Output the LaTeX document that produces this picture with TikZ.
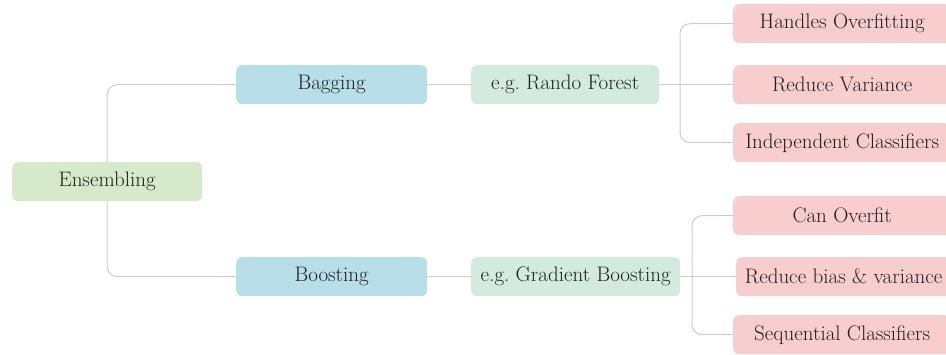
\documentclass[tikz,border=0pt]{standalone}
\usepackage{tikz}
\frenchspacing
\definecolor{rootg}{HTML}{D5EACB}
\definecolor{blueb}{HTML}{B8DEE8}
\definecolor{mint}{HTML}{D3EBDF}
\definecolor{pinkb}{HTML}{F8CDCE}
\definecolor{linec}{HTML}{CCCCCC}
\definecolor{txt}{HTML}{202020}
\begin{document}
\begin{tikzpicture}[x=1pt,y=-1pt,
  box/.style={rounded corners=6pt, inner sep=0pt, text=txt, font=\fontsize{21}{25}\selectfont, anchor=north west},
  conn/.style={draw=linec, line width=1pt, rounded corners=10pt}]
\useasboundingbox (0,0) rectangle (946,355);
\clip (0,0) rectangle (946,355);
% nodes
\node[box, fill=rootg, minimum width=190pt, minimum height=39pt] (ens) at (12,162) {Ensembling};
\node[box, fill=blueb, minimum width=191pt, minimum height=39pt] (bag) at (236,65) {Bagging};
\node[box, fill=blueb, minimum width=191pt, minimum height=39pt] (boo) at (236,257) {Boosting};
\node[box, fill=mint, minimum width=188pt, minimum height=39pt] (rf) at (471,65) {e.g. Rando Forest};
\node[box, fill=mint, minimum width=209pt, minimum height=39pt] (gb) at (471,257) {e.g. Gradient Boosting};
\node[box, fill=pinkb, minimum width=218pt, minimum height=39pt] (h1) at (733,4) {Handles Overfitting};
\node[box, fill=pinkb, minimum width=218pt, minimum height=39pt] (h2) at (733,65) {Reduce Variance};
\node[box, fill=pinkb, minimum width=218pt, minimum height=39pt] (h3) at (733,123) {Independent Classifiers};
\node[box, fill=pinkb, minimum width=218pt, minimum height=39pt] (b1) at (733,196) {Can Overfit};
\node[box, fill=pinkb, minimum width=215pt, minimum height=39pt] (b2) at (736,257) {Reduce bias \& variance};
\node[box, fill=pinkb, minimum width=218pt, minimum height=39pt] (b3) at (733,315) {Sequential Classifiers};
% connectors
\coordinate (j1) at (680,84.5);
\coordinate (j2) at (692,276.5);
\draw[conn] (ens.north) |- (bag.west);
\draw[conn] (ens.south) |- (boo.west);
\draw[conn] (bag.east) -- (rf.west);
\draw[conn] (boo.east) -- (gb.west);
\draw[conn] (rf.east) -- (h2.west);
\draw[conn] (h1.west) -| (j1) |- (h3.west);
\draw[conn] (gb.east) -- (b2.west);
\draw[conn] (b1.west) -| (j2) |- (b3.west);
\end{tikzpicture}
\end{document}
